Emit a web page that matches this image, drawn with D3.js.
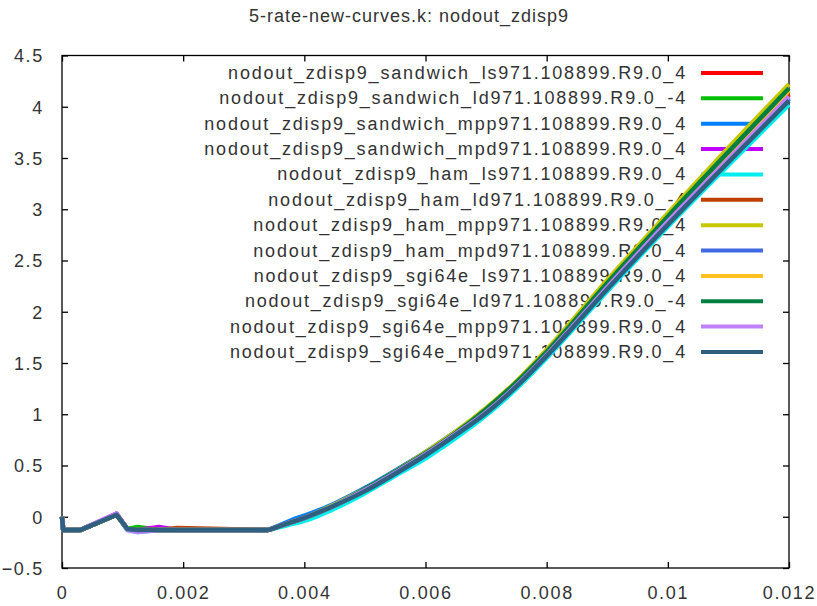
<!DOCTYPE html>
<html>
<head>
<meta charset="utf-8">
<script src="https://cdnjs.cloudflare.com/ajax/libs/d3/7.8.5/d3.min.js"></script>
<style>
body { margin: 0; background: #fff; }
text { font-family: "Liberation Sans", Arial, sans-serif; fill: #333; }
</style>
</head>
<body>
<div id="chart"></div>
<script>
// x values shared by every curve (time)
var xValues = [0, 0.00002, 0.0003, 0.0009, 0.00108, 0.00125, 0.0016, 0.0019, 0.0034, 0.0036, 0.0038, 0.004,
  0.0045, 0.005, 0.0055, 0.006, 0.0065, 0.007, 0.0075, 0.008, 0.009, 0.01, 0.011, 0.012];

var seriesNames = [
  "nodout_zdisp9_sandwich_ls971.108899.R9.0_4",
  "nodout_zdisp9_sandwich_ld971.108899.R9.0_-4",
  "nodout_zdisp9_sandwich_mpp971.108899.R9.0_4",
  "nodout_zdisp9_sandwich_mpd971.108899.R9.0_4",
  "nodout_zdisp9_ham_ls971.108899.R9.0_4",
  "nodout_zdisp9_ham_ld971.108899.R9.0_-4",
  "nodout_zdisp9_ham_mpp971.108899.R9.0_4",
  "nodout_zdisp9_ham_mpd971.108899.R9.0_4",
  "nodout_zdisp9_sgi64e_ls971.108899.R9.0_4",
  "nodout_zdisp9_sgi64e_ld971.108899.R9.0_-4",
  "nodout_zdisp9_sgi64e_mpp971.108899.R9.0_4",
  "nodout_zdisp9_sgi64e_mpd971.108899.R9.0_4"
];

var seriesColors = ["#ff0000", "#00c000", "#0080ff", "#c000ff", "#00eeee", "#c04000",
  "#c8c800", "#4169e1", "#ffc020", "#008040", "#c080ff", "#306080"];

var sandwichLs  = [0, -0.13, -0.13, 0.02, -0.12, -0.13, -0.13, -0.13, -0.13, -0.09, -0.05, -0.01, 0.11, 0.26, 0.43, 0.61, 0.81, 1.04, 1.30, 1.60, 2.26, 2.90, 3.53, 4.14];
var sandwichLd  = [0, -0.13, -0.13, 0.02, -0.12, -0.10, -0.13, -0.13, -0.13, -0.09, -0.05, -0.01, 0.11, 0.26, 0.44, 0.62, 0.82, 1.04, 1.30, 1.61, 2.27, 2.92, 3.54, 4.16];
var sandwichMpp = [0, -0.13, -0.13, 0.02, -0.12, -0.13, -0.13, -0.13, -0.13, -0.08, -0.03, 0.01, 0.13, 0.28, 0.45, 0.63, 0.83, 1.04, 1.30, 1.59, 2.24, 2.87, 3.48, 4.08];
var sandwichMpd = [0, -0.13, -0.13, 0.03, -0.12, -0.13, -0.10, -0.13, -0.13, -0.09, -0.05, -0.01, 0.11, 0.26, 0.43, 0.61, 0.81, 1.03, 1.29, 1.59, 2.25, 2.89, 3.51, 4.12];
var hamLs       = [0, -0.13, -0.13, 0.02, -0.13, -0.15, -0.13, -0.13, -0.13, -0.10, -0.07, -0.04, 0.08, 0.23, 0.40, 0.57, 0.77, 0.99, 1.25, 1.55, 2.20, 2.83, 3.43, 4.02];
var hamLd       = [0, -0.13, -0.13, 0.02, -0.12, -0.13, -0.13, -0.11, -0.13, -0.09, -0.05, -0.01, 0.11, 0.26, 0.43, 0.61, 0.81, 1.03, 1.29, 1.59, 2.25, 2.89, 3.51, 4.12];
var hamMpp      = [0, -0.13, -0.13, 0.02, -0.12, -0.13, -0.13, -0.13, -0.13, -0.09, -0.05, -0.01, 0.12, 0.27, 0.44, 0.63, 0.83, 1.06, 1.32, 1.63, 2.31, 2.96, 3.60, 4.22];
var hamMpd      = [0, -0.13, -0.13, 0.02, -0.12, -0.13, -0.13, -0.13, -0.13, -0.09, -0.05, -0.01, 0.11, 0.26, 0.42, 0.60, 0.80, 1.02, 1.28, 1.57, 2.23, 2.86, 3.48, 4.08];
var sgiLs       = [0, -0.13, -0.13, 0.02, -0.12, -0.13, -0.13, -0.13, -0.13, -0.09, -0.05, -0.01, 0.11, 0.26, 0.44, 0.62, 0.82, 1.04, 1.30, 1.61, 2.27, 2.92, 3.54, 4.16];
var sgiLd       = [0, -0.13, -0.13, 0.02, -0.12, -0.13, -0.13, -0.13, -0.13, -0.09, -0.05, -0.01, 0.11, 0.27, 0.44, 0.62, 0.82, 1.05, 1.31, 1.61, 2.28, 2.93, 3.56, 4.18];
var sgiMpp      = [0, -0.13, -0.13, 0.03, -0.13, -0.15, -0.13, -0.13, -0.13, -0.09, -0.05, -0.01, 0.11, 0.26, 0.43, 0.61, 0.81, 1.02, 1.28, 1.58, 2.24, 2.88, 3.49, 4.10];
var sgiMpd      = [0, -0.13, -0.13, 0.02, -0.12, -0.13, -0.13, -0.13, -0.13, -0.09, -0.05, -0.01, 0.11, 0.25, 0.42, 0.60, 0.80, 1.01, 1.27, 1.57, 2.22, 2.85, 3.46, 4.06];

var yValues = [sandwichLs, sandwichLd, sandwichMpp, sandwichMpd, hamLs, hamLd, hamMpp, hamMpd, sgiLs, sgiLd, sgiMpp, sgiMpd];

// index where the flat start ends and the smooth rise begins
var riseStart = 8;

var xTicks = [0, 0.002, 0.004, 0.006, 0.008, 0.01, 0.012];
var yTicks = [-0.5, 0, 0.5, 1, 1.5, 2, 2.5, 3, 3.5, 4, 4.5];

var chartTitle = "5-rate-new-curves.k: nodout_zdisp9";

// set the dimensions and margins of the graph
var W = 817, H = 606;
var margin = {top: 55.5, right: 28, bottom: 38, left: 62};

var svg = d3.select("#chart")
  .append("svg")
  .attr("width", W)
  .attr("height", H);

var xScale = d3.scaleLinear()
  .domain([0, 0.012])
  .range([margin.left, W - margin.right]);
var yScale = d3.scaleLinear()
  .domain([-0.5, 4.5])
  .range([H - margin.bottom, margin.top]);

var tickLen = 6;

// axes: gnuplot style, ticks inside and mirrored
var xAxisB = d3.axisBottom(xScale).tickValues(xTicks).tickSizeInner(-tickLen).tickSizeOuter(0)
  .tickFormat(function(d) { return d3.format("")(+d.toFixed(3)); });
var xAxisT = d3.axisTop(xScale).tickValues(xTicks).tickSizeInner(-tickLen).tickSizeOuter(0).tickFormat("");
var yAxisL = d3.axisLeft(yScale).tickValues(yTicks).tickSizeInner(-tickLen).tickSizeOuter(0)
  .tickFormat(function(d) { return d3.format("")(d); });
var yAxisR = d3.axisRight(yScale).tickValues(yTicks).tickSizeInner(-tickLen).tickSizeOuter(0).tickFormat("");

svg.append("g").attr("class", "axis x_bottom")
  .attr("transform", "translate(0," + (H - margin.bottom) + ")")
  .call(xAxisB);
svg.append("g").attr("class", "axis x_top")
  .attr("transform", "translate(0," + margin.top + ")")
  .call(xAxisT);
svg.append("g").attr("class", "axis y_left")
  .attr("transform", "translate(" + margin.left + ",0)")
  .call(yAxisL);
svg.append("g").attr("class", "axis y_right")
  .attr("transform", "translate(" + (W - margin.right) + ",0)")
  .call(yAxisR);

svg.selectAll(".axis path").remove();
svg.selectAll(".axis line").attr("stroke", "#000").attr("stroke-width", 1.3);
svg.selectAll(".axis text")
  .attr("font-family", "Liberation Sans, Arial, sans-serif")
  .attr("font-size", "18px")
  .attr("letter-spacing", "1.7px")
  .attr("fill", "#333");
svg.selectAll(".x_bottom text").attr("y", 18).attr("dy", "0.71em");
svg.selectAll(".y_left text").attr("x", -18).attr("dy", "0.35em");

// plot border
svg.append("rect")
  .attr("x", margin.left)
  .attr("y", margin.top)
  .attr("width", W - margin.left - margin.right)
  .attr("height", H - margin.top - margin.bottom)
  .attr("fill", "none")
  .attr("stroke", "#000")
  .attr("stroke-width", 1.3);

// title
svg.append("text")
  .attr("x", 409)
  .attr("y", 22)
  .attr("text-anchor", "middle")
  .attr("font-size", "18px")
  .attr("letter-spacing", "1px")
  .text(chartTitle);

// legend (key), drawn before the curves like gnuplot does
var keyTop = 73, keyStep = 25.36;
var key = svg.selectAll(".key").data(seriesNames).enter()
  .append("g")
  .attr("class", "key")
  .attr("transform", function(d, i) { return "translate(0," + (keyTop + i * keyStep) + ")"; });
key.append("text")
  .attr("x", 687)
  .attr("y", 6)
  .attr("text-anchor", "end")
  .attr("font-size", "18px")
  .attr("letter-spacing", "1.8px")
  .text(function(d) { return d; });
key.append("line")
  .attr("x1", 701)
  .attr("x2", 763)
  .attr("stroke", function(d, i) { return seriesColors[i]; })
  .attr("stroke-width", 4);

// curves: straight segments for the start, smooth for the rise
var lineHead = d3.line()
  .x(function(d) { return xScale(d[0]); })
  .y(function(d) { return yScale(d[1]); });
var lineTail = d3.line()
  .curve(d3.curveMonotoneX)
  .x(function(d) { return xScale(d[0]); })
  .y(function(d) { return yScale(d[1]); });

svg.selectAll(".curve").data(yValues).enter()
  .append("path")
  .attr("class", "curve")
  .attr("d", function(ys) {
    var pts = ys.map(function(v, i) { return [xValues[i], v]; });
    return lineHead(pts.slice(0, riseStart + 1)) + lineTail(pts.slice(riseStart));
  })
  .attr("fill", "none")
  .attr("stroke", function(d, i) { return seriesColors[i]; })
  .attr("stroke-width", 4.5)
  .attr("stroke-linejoin", "round");
</script>
</body>
</html>
